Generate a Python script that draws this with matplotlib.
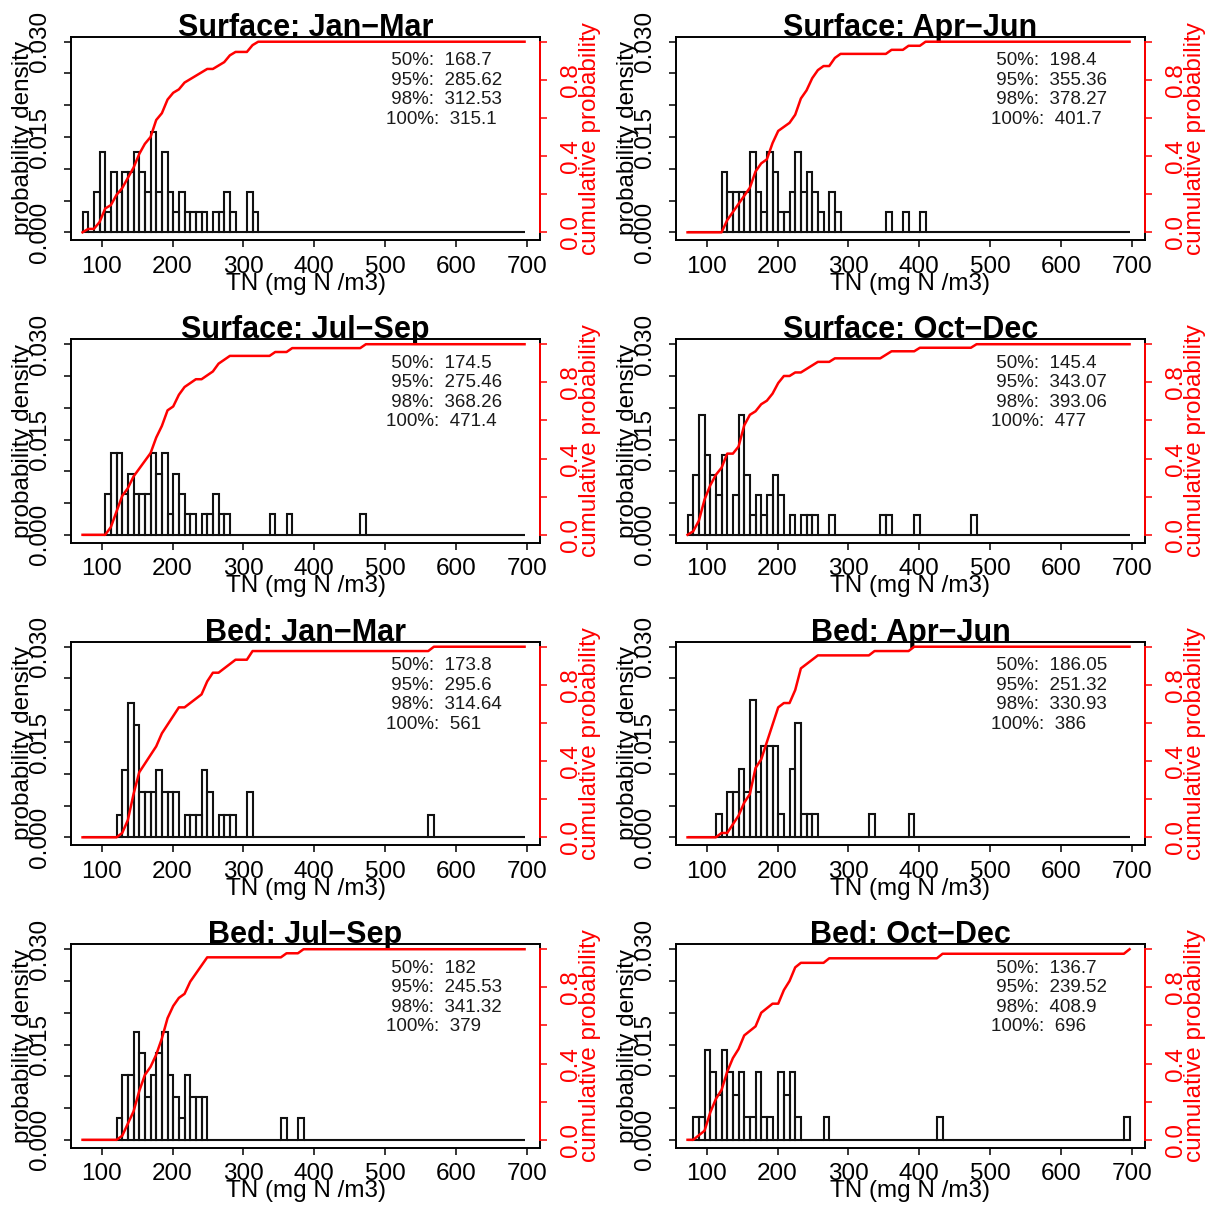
import numpy as np
import matplotlib.pyplot as plt

plt.rcParams['font.family'] = ['Liberation Sans', 'DejaVu Sans']

# shared histogram grid (mg N /m3)
bin_start = 73
bin_width = 8
n_bins = 78

titles = ['Surface: Jan\u2212Mar', 'Surface: Apr\u2212Jun',
          'Surface: Jul\u2212Sep', 'Surface: Oct\u2212Dec',
          'Bed: Jan\u2212Mar', 'Bed: Apr\u2212Jun',
          'Bed: Jul\u2212Sep', 'Bed: Oct\u2212Dec']

# occupied bins (index on the grid) and sample counts
surf_jan_bins = [0, 2, 3, 4, 5, 6, 7, 8, 9, 10, 11, 12, 13, 14, 15, 16, 17, 18, 19, 20, 21, 23, 24, 25, 26, 29, 30]
surf_jan_counts = [1, 2, 4, 1, 3, 2, 3, 3, 4, 3, 2, 5, 2, 4, 2, 1, 2, 1, 1, 1, 1, 1, 1, 2, 1, 2, 1]
surf_apr_bins = [6, 7, 8, 9, 10, 11, 12, 13, 14, 15, 16, 17, 18, 19, 20, 21, 22, 23, 25, 26, 35, 38, 41]
surf_apr_counts = [3, 2, 2, 2, 2, 4, 2, 1, 4, 3, 1, 1, 2, 4, 2, 3, 2, 1, 2, 1, 1, 1, 1]
surf_jul_bins = [4, 5, 6, 7, 8, 9, 10, 11, 12, 13, 14, 15, 16, 17, 18, 19, 21, 22, 23, 24, 25, 33, 36, 49]
surf_jul_counts = [2, 4, 4, 2, 3, 2, 2, 2, 4, 3, 4, 1, 3, 2, 1, 1, 1, 1, 2, 1, 1, 1, 1, 1]
surf_oct_bins = [0, 1, 2, 3, 4, 5, 6, 8, 9, 10, 11, 12, 13, 14, 15, 16, 18, 20, 21, 22, 25, 34, 35, 40, 50]
surf_oct_counts = [1, 3, 6, 4, 3, 2, 4, 2, 6, 3, 1, 2, 1, 2, 3, 2, 1, 1, 1, 1, 1, 1, 1, 1, 1]
bed_jan_bins = [6, 7, 8, 9, 10, 11, 12, 13, 14, 15, 16, 18, 19, 20, 21, 22, 24, 25, 26, 29, 61]
bed_jan_counts = [1, 3, 6, 5, 2, 2, 2, 3, 2, 2, 2, 1, 1, 1, 3, 2, 1, 1, 1, 2, 1]
bed_apr_bins = [5, 7, 8, 9, 10, 11, 12, 13, 14, 15, 16, 18, 19, 20, 21, 22, 32, 39]
bed_apr_counts = [1, 2, 2, 3, 2, 6, 2, 4, 4, 4, 1, 3, 5, 1, 1, 1, 1, 1]
bed_jul_bins = [6, 7, 8, 9, 10, 11, 12, 13, 14, 15, 16, 17, 18, 19, 20, 21, 35, 38]
bed_jul_counts = [1, 3, 3, 5, 4, 2, 3, 4, 5, 3, 2, 1, 3, 2, 2, 2, 1, 1]
bed_oct_bins = [1, 2, 3, 4, 5, 6, 7, 8, 9, 10, 11, 12, 13, 14, 16, 17, 18, 19, 24, 44, 77]
bed_oct_counts = [1, 1, 4, 3, 2, 4, 3, 2, 3, 1, 1, 3, 1, 1, 3, 2, 3, 1, 1, 1, 1]

# probability density of one sample in a bin, per panel (from the left axis)
density_per_count = [0.00316, 0.00316, 0.0032, 0.00315, 0.00353, 0.0036, 0.0034, 0.00355]

quantile_labels = ['50%', '95%', '98%', '100%']
surf_jan_q = [168.7, 285.62, 312.53, 315.1]
surf_apr_q = [198.4, 355.36, 378.27, 401.7]
surf_jul_q = [174.5, 275.46, 368.26, 471.4]
surf_oct_q = [145.4, 343.07, 393.06, 477]
bed_jan_q = [173.8, 295.6, 314.64, 561]
bed_apr_q = [186.05, 251.32, 330.93, 386]
bed_jul_q = [182, 245.53, 341.32, 379]
bed_oct_q = [136.7, 239.52, 408.9, 696]

panel_bins = [surf_jan_bins, surf_apr_bins, surf_jul_bins, surf_oct_bins,
              bed_jan_bins, bed_apr_bins, bed_jul_bins, bed_oct_bins]
panel_counts = [surf_jan_counts, surf_apr_counts, surf_jul_counts, surf_oct_counts,
                bed_jan_counts, bed_apr_counts, bed_jul_counts, bed_oct_counts]
panel_q = [surf_jan_q, surf_apr_q, surf_jul_q, surf_oct_q,
           bed_jan_q, bed_apr_q, bed_jul_q, bed_oct_q]

x_ticks = [100, 200, 300, 400, 500, 600, 700]
dens_ticks = [0.0, 0.005, 0.010, 0.015, 0.020, 0.025, 0.030]
cum_ticks = [0.0, 0.2, 0.4, 0.6, 0.8, 1.0]

W, H = 1213, 1207
fig = plt.figure(figsize=(W / 100, H / 100), dpi=100)
fig.patch.set_facecolor('white')

FS = 17.5
YLIM = (-0.00121, 0.03079)


def draw_panel(ax, title, bins, counts, unit, quant):
    edges = bin_start + bin_width * np.arange(n_bins + 1)
    full = np.zeros(n_bins)
    full[bins] = counts

    # histogram as hollow bars, empty bins give the flat base line
    ax.bar(edges[:-1], full * unit, width=bin_width, align='edge',
           fill=False, edgecolor='#111111', linewidth=1.5)
    ax.set_xlim(56.7, 718.8)
    ax.set_ylim(*YLIM)

    ax.set_xticks(x_ticks)
    ax.set_xticklabels([str(t) for t in x_ticks], fontsize=FS, va='center')
    ax.tick_params(axis='x', length=5, width=1.1, pad=14.4)
    ax.set_yticks(dens_ticks)
    ax.set_yticklabels([f'{v:.3f}' if i % 3 == 0 else '' for i, v in enumerate(dens_ticks)],
                       fontsize=FS, rotation=90, va='center', ha='center')
    ax.tick_params(axis='y', length=5, width=1.1, pad=17.3)
    for sp in ax.spines.values():
        sp.set_linewidth(1.4)

    # cumulative probability on the right axis
    ax2 = ax.twinx()
    cum = np.concatenate([[0], np.cumsum(full)]) / full.sum()
    ax2.plot(edges, cum, color='red', linewidth=1.8)
    ax2.set_ylim(YLIM[0] / 0.03, YLIM[1] / 0.03)
    ax2.set_yticks(cum_ticks)
    ax2.set_yticklabels([f'{v:.1f}' if i % 2 == 0 and v < 1 else '' for i, v in enumerate(cum_ticks)],
                        fontsize=FS, rotation=90, va='center', ha='center', color='red')
    ax2.tick_params(axis='y', length=5, width=1.1, pad=17.3, colors='red')
    for name in ['left', 'top', 'bottom']:
        ax2.spines[name].set_visible(False)
    ax2.spines['right'].set_color('red')
    ax2.spines['right'].set_linewidth(1.4)
    ax2.spines['right'].set_bounds(0, 1)

    # labels
    ax.text(0.5, 1.005, title, transform=ax.transAxes, ha='center', va='baseline',
            fontsize=22, fontweight='bold')
    ax.text(0.5, -0.2164, 'TN (mg N /m3)', transform=ax.transAxes,
            ha='center', va='center', fontsize=FS)
    ax.text(-0.102, 0.5, 'probability density', transform=ax.transAxes, rotation=90,
            ha='center', va='center', fontsize=FS)
    ax.text(1.1066, 0.5, 'cumulative probability', transform=ax.transAxes, rotation=90,
            ha='center', va='center', fontsize=FS, color='red')

    # quantile summary
    for i, (lab, val) in enumerate(zip(quantile_labels, quant)):
        ax.text(0.6716, 0.882 - 0.096 * i, f'{lab:>4}:  {val:g}', transform=ax.transAxes,
                ha='left', va='center', fontsize=13.5, color='#1a1a1a')


col_left = [71, 676]
box_w, box_h = 469, 203.3
for p in range(8):
    row, col = divmod(p, 2)
    top = 36.7 + 302.5 * row
    ax = fig.add_axes([col_left[col] / W, 1 - (top + box_h) / H, box_w / W, box_h / H])
    draw_panel(ax, titles[p], panel_bins[p], panel_counts[p], density_per_count[p], panel_q[p])

fig.savefig('out.png', dpi=100, facecolor='white')
